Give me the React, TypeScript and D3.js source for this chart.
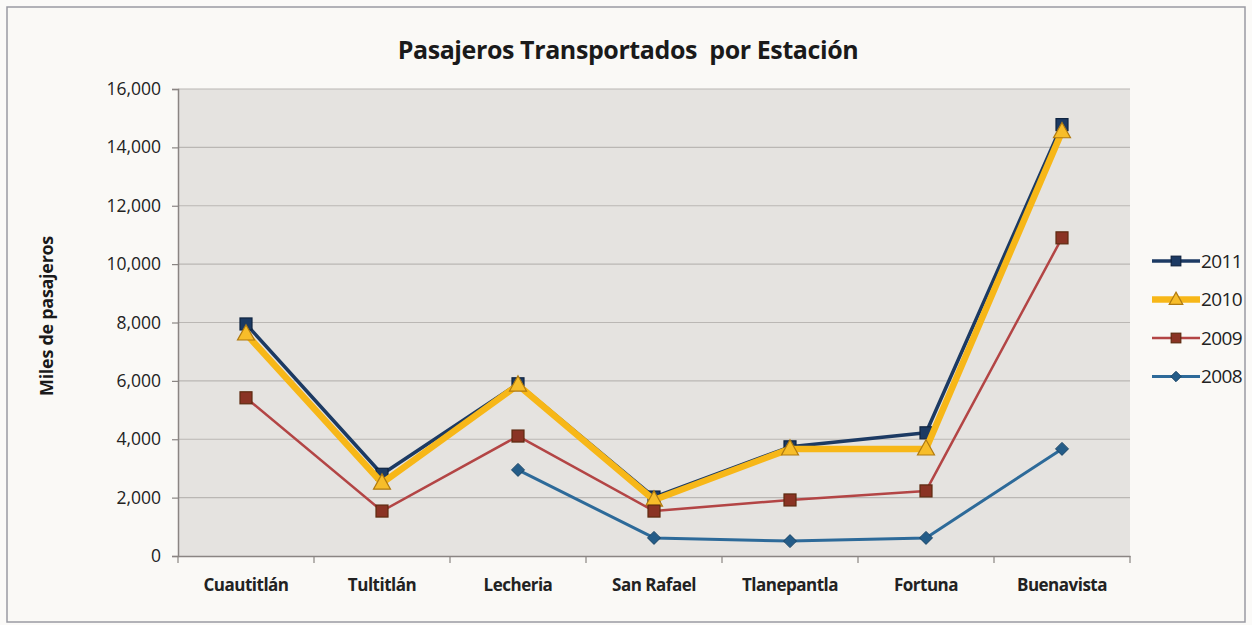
import React, { useEffect, useRef } from 'react';
import * as d3 from 'd3';

const stations = ['Cuautitlán', 'Tultitlán', 'Lecheria', 'San Rafael', 'Tlanepantla', 'Fortuna', 'Buenavista'];
const v2011 = [7950, 2800, 5900, 2020, 3740, 4220, 14780];
const v2010 = [7610, 2500, 5860, 1920, 3670, 3670, 14540];
const v2009 = [5420, 1540, 4110, 1540, 1920, 2230, 10900];
const v2008 = [null, null, 2950, 620, 510, 620, 3670];
const yTicks = [0, 2000, 4000, 6000, 8000, 10000, 12000, 14000, 16000];

const series = [
  { name: '2011', values: v2011, color: '#1c3a63', width: 3.5, marker: 'square', fill: '#1c3a63', stroke: '#0f2440', size: 12 },
  { name: '2010', values: v2010, color: '#f7b718', width: 6.5, marker: 'triangle', fill: '#f7bd2a', stroke: '#b07a10', size: 17 },
  { name: '2009', values: v2009, color: '#b34545', width: 2.5, marker: 'square', fill: '#8a3324', stroke: '#5e2a10', size: 12 },
  { name: '2008', values: v2008, color: '#2d6a99', width: 3, marker: 'diamond', fill: '#245c88', stroke: '#1a4566', size: 13 },
];

const W = 1252, H = 625;
const FONT = 'Open Sans, sans-serif';

export default function App() {
  const ref = useRef<SVGSVGElement>(null);

  useEffect(() => {
    const svg = d3.select(ref.current);
    svg.selectAll('*').remove();

    const left = 178, right = 1130, top = 89, bottom = 556;

    svg.append('rect').attr('width', W).attr('height', H).attr('fill', '#fbfaf8');
    svg.append('rect').attr('x', 7).attr('y', 7).attr('width', W - 14).attr('height', H - 10)
      .attr('fill', '#faf9f6').attr('stroke', '#9a9aa2').attr('stroke-width', 1.5);

    const x = d3.scaleBand().domain(stations).range([left, right]);
    const y = d3.scaleLinear().domain([0, 16000]).range([bottom, top]);

    svg.append('rect').attr('x', left).attr('y', top).attr('width', right - left).attr('height', bottom - top)
      .attr('fill', '#e5e3e0');

    // gridlines
    svg.append('g').selectAll('line').data(yTicks.slice(1)).enter().append('line')
      .attr('x1', left).attr('x2', right).attr('y1', (d) => y(d)).attr('y2', (d) => y(d))
      .attr('stroke', '#bab7b4').attr('stroke-width', 1.2);

    // y axis
    const yAxis = svg.append('g').attr('transform', `translate(${left},0)`)
      .call(d3.axisLeft(y).tickValues(yTicks).tickSize(6).tickPadding(11).tickFormat(d3.format(',')));
    yAxis.select('.domain').attr('stroke', '#8a8583').attr('stroke-width', 1.5);
    yAxis.selectAll('.tick line').attr('stroke', '#8a8583').attr('stroke-width', 1.2);
    yAxis.selectAll('text').attr('font-family', FONT).attr('font-size', 17.5).attr('fill', '#222');

    // x axis
    const xAxis = svg.append('g').attr('transform', `translate(0,${bottom})`)
      .call(d3.axisBottom(x).tickSize(0).tickPadding(23));
    xAxis.select('.domain').attr('stroke', '#8a8583').attr('stroke-width', 1.5);
    xAxis.selectAll('text').attr('font-family', FONT).attr('font-size', 17)
      .attr('font-weight', 'bold').attr('fill', '#222').attr('letter-spacing', -0.5);
    const bounds = stations.map((s) => x(s)!).concat([right]);
    svg.append('g').selectAll('line').data(bounds).enter().append('line')
      .attr('x1', (d) => d).attr('x2', (d) => d).attr('y1', bottom).attr('y2', bottom + 7)
      .attr('stroke', '#8a8583').attr('stroke-width', 1.2);

    const cx = (i: number) => x(stations[i])! + x.bandwidth() / 2;

    const drawMarker = (g: any, s: any, px: number, py: number, k = 1) => {
      const sz = s.size * k;
      const r = sz / 2;
      if (s.marker === 'square') {
        g.append('rect').attr('x', px - r).attr('y', py - r).attr('width', sz).attr('height', sz)
          .attr('fill', s.fill).attr('stroke', s.stroke).attr('stroke-width', 1.2);
      } else if (s.marker === 'triangle') {
        const h = sz * 0.9;
        g.append('path').attr('d', `M${px},${py - h * 0.6}L${px + r},${py + h * 0.4}L${px - r},${py + h * 0.4}Z`)
          .attr('fill', s.fill).attr('stroke', s.stroke).attr('stroke-width', 1.2);
      } else {
        g.append('path').attr('d', `M${px},${py - r}L${px + r},${py}L${px},${py + r}L${px - r},${py}Z`)
          .attr('fill', s.fill).attr('stroke', s.stroke).attr('stroke-width', 1);
      }
    };

    const line = d3.line<any>().defined((d) => d.v !== null).x((d) => cx(d.i)).y((d) => y(d.v));

    series.forEach((s) => {
      const pts = s.values.map((v, i) => ({ v, i }));
      const g = svg.append('g');
      g.append('path').datum(pts).attr('d', line).attr('fill', 'none')
        .attr('stroke', s.color).attr('stroke-width', s.width).attr('stroke-linejoin', 'round');
      pts.filter((p) => p.v !== null).forEach((p) => drawMarker(g, s, cx(p.i), y(p.v as number)));
    });

    // legend
    const lg = svg.append('g');
    series.forEach((s, i) => {
      const ly = 261 + i * 38.5;
      lg.append('line').attr('x1', 1152).attr('x2', 1200).attr('y1', ly).attr('y2', ly)
        .attr('stroke', s.color).attr('stroke-width', s.width);
      drawMarker(lg, s, 1176, ly, 0.8);
      lg.append('text').attr('x', 1201).attr('y', ly).attr('dy', '0.36em')
        .attr('font-family', FONT).attr('font-size', 19).attr('fill', '#222')
        .attr('letter-spacing', -0.6).text(s.name);
    });

    svg.append('text').attr('x', 628).attr('y', 59).attr('text-anchor', 'middle')
      .attr('font-family', FONT).attr('font-size', 25).attr('font-weight', 'bold')
      .attr('fill', '#1a1a1a').attr('letter-spacing', -0.4).attr('xml:space', 'preserve')
      .text('Pasajeros Transportados  por Estación');

    svg.append('text').attr('transform', `translate(53,316) rotate(-90)`)
      .attr('text-anchor', 'middle').attr('font-family', FONT).attr('font-size', 18)
      .attr('font-weight', 'bold').attr('fill', '#1a1a1a').attr('letter-spacing', -0.3)
      .text('Miles de pasajeros');
  }, []);

  return (
    <svg ref={ref} width={W} height={H} style={{ position: 'absolute', left: 0, top: 0 }} />
  );
}
